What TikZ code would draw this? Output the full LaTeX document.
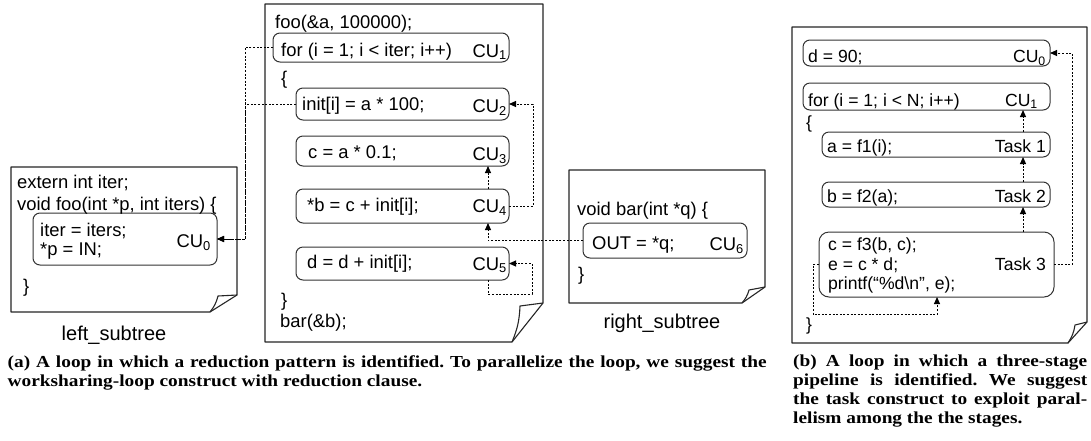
\documentclass[tikz,border=0pt]{standalone}
\usepackage{fontspec}
\newfontfamily\codefont{Liberation Sans}
\newfontfamily\capfont{Liberation Serif}[FakeStretch=1.15]
\usetikzlibrary{arrows.meta,calc}
\begin{document}
\begin{tikzpicture}[x=1pt,y=-1pt,
  doc/.style={draw=black!85, line width=1.1pt, line join=round},
  cubox/.style={draw=black!80, line width=1pt, rounded corners=7pt, inner sep=0pt, outer sep=0pt},
  code/.style={inner sep=0pt, anchor=base west, font=\codefont\fontsize{18.4}{22}\selectfont},
  codeR/.style={code, anchor=base east},
  pcode/.style={inner sep=0pt, anchor=base west, font=\codefont\fontsize{17.6}{21}\selectfont},
  pcodeR/.style={pcode, anchor=base east},
  lbl/.style={inner sep=0pt, anchor=base, font=\codefont\fontsize{20}{24}\selectfont},
  captext/.style={inner sep=0pt, anchor=base west, font=\capfont\bfseries\frenchspacing\fontsize{16.8}{19.5}\selectfont},
  dep/.style={draw=black, line width=1pt, dash pattern=on 2pt off 1.6pt, -{Triangle[length=7pt,width=6pt]}}
]
\useasboundingbox (0,0) rectangle (1091,440);
\fill[white] (0,0) rectangle (1091,440);

% ---------- documents ----------
% left_subtree
\draw[doc] (11,167) -- (237,167) -- (237,295) -- (210,312) -- (11,312) -- cycle;
\draw[doc] (237,295) -- (218,296) to[bend left=12] (210,312);
% main
\draw[doc] (265,4) -- (543,4) -- (543,303) -- (512,342) -- (265,342) -- cycle;
\draw[doc] (543,303) -- (520,306) to[bend left=10] (512,342);
% right_subtree
\draw[doc] (569,170) -- (765,170) -- (765,287) -- (742,303) -- (569,303) -- cycle;
\draw[doc] (765,287) -- (749,290) to[bend left=12] (742,303);
% panel b
\draw[doc] (792,27) -- (1087,27) -- (1087,322) -- (1068,343) -- (792,343) -- cycle;
\draw[doc] (1087,322) -- (1075,325) to[bend left=12] (1068,343);

% ---------- CU boxes ----------
\node[cubox, minimum width=184pt, minimum height=52pt] (cu0) at (125,239) {};
\node[cubox, minimum width=236pt, minimum height=29pt] (cu1) at (391,47.5) {};
\node[cubox, minimum width=213pt, minimum height=32pt] (cu2) at (402.5,104) {};
\node[cubox, minimum width=213pt, minimum height=30pt] (cu3) at (402.5,151) {};
\node[cubox, minimum width=213pt, minimum height=34pt] (cu4) at (402.5,206) {};
\node[cubox, minimum width=213pt, minimum height=33pt] (cu5) at (402.5,263.5) {};
\node[cubox, minimum width=164pt, minimum height=35pt] (cu6) at (665,240.5) {};

\node[cubox, minimum width=247pt, minimum height=26pt] (rcu0) at (926.5,53) {};
\node[cubox, minimum width=247pt, minimum height=27pt] (rcu1) at (926.5,96.5) {};
\node[cubox, minimum width=228pt, minimum height=25pt] (t1) at (936,144.5) {};
\node[cubox, minimum width=228pt, minimum height=25pt] (t2) at (936,194.5) {};
\node[cubox, rounded corners=10pt, minimum width=235pt, minimum height=65pt] (t3) at (936.5,264.5) {};

% ---------- texts: left_subtree ----------
\node[code] (l1) at (17,188) {extern int iter;};
\node[code] (l2) at (17,210) {void foo(int *p, int iters) \{};
\node[code] (l3) at (40,236) {iter = iters;};
\node[code] (l4) at (40,255) {*p = IN;};
\node[codeR] (l5) at (211,247) {CU\textsubscript{0}};
\node[code] (l6) at (23,292.5) {\}};
\node[lbl] (llab) at (114,340) {left\_subtree};

% ---------- texts: main ----------
\node[code] (m1) at (275,28) {foo(\&a, 100000);};
\node[code] (m2) at (281,56.5) {for (i = 1; i < iter; i++)};
\node[codeR] (m2c) at (507,57) {CU\textsubscript{1}};
\node[code] (m3) at (281,84) {\{};
\node[code] (m4) at (302,110.5) {init[i] = a * 100;};
\node[codeR] (m4c) at (507,112) {CU\textsubscript{2}};
\node[code] (m5) at (308,158.5) {c = a * 0.1;};
\node[codeR] (m5c) at (507,160.5) {CU\textsubscript{3}};
\node[code] (m6) at (307,211) {*b = c + init[i];};
\node[codeR] (m6c) at (507,212.5) {CU\textsubscript{4}};
\node[code] (m7) at (307,268) {d = d + init[i];};
\node[codeR] (m7c) at (507,270) {CU\textsubscript{5}};
\node[code] (m8) at (281,306.5) {\}};
\node[code] (m9) at (280,327) {bar(\&b);};

% ---------- texts: right_subtree ----------
\node[code] (r1) at (577,215) {void bar(int *q) \{};
\node[code] (r2) at (592,249.5) {OUT = *q;};
\node[codeR] (r2c) at (744,250) {CU\textsubscript{6}};
\node[code] (r3) at (578,280) {\}};
\node[lbl] (rlab) at (662,328) {right\_subtree};

% ---------- texts: panel b ----------
\node[pcode] (p1) at (808,62.5) {d = 90;};
\node[pcodeR] (p1c) at (1046,62.5) {CU\textsubscript{0}};
\node[pcode] (p2) at (808,106) {for (i = 1; i < N; i++)};
\node[pcodeR] (p2c) at (1038,106) {CU\textsubscript{1}};
\node[pcode] (p3) at (806,128) {\{};
\node[pcode] (p4) at (827,152.5) {a = f1(i);};
\node[pcodeR] (p4c) at (1046,152.5) {Task 1};
\node[pcode] (p5) at (827,202.5) {b = f2(a);};
\node[pcodeR] (p5c) at (1046,202.5) {Task 2};
\node[pcode] (p6) at (828,250) {c = f3(b, c);};
\node[pcode] (p7) at (828,270) {e = c * d;};
\node[pcode] (p8) at (828,289.5) {printf(“\%d\textbackslash n”, e);};
\node[pcodeR] (p7c) at (1046,270) {Task 3};
\node[pcode] (p9) at (806,330) {\}};

% ---------- connectors ----------
\coordinate (colA) at (488,0);
\coordinate (colB) at (1023,0);
\coordinate (colC) at (937,0);
\draw[dep] (cu1.west) -- ++(-28,0) |- (cu0.east);
\draw[dep] (cu2.west) -- ++(-51,0) |- (cu0.east);
\draw[dep] (cu4.east) -- ++(24,0) |- (cu2.east);
\draw[dep] (cu4.north -| colA) -- (cu3.south -| colA);
\draw[dep] (cu6.west) -| (cu4.south -| colA);
\draw[dep] (cu5.south -| colA) -- ++(0,14) -| ($(cu5.east)+(23,0)$) -- (cu5.east);

\draw[dep] (t1.north -| colB) -- (rcu1.south -| colB);
\draw[dep] (t2.north -| colB) -- (t1.south -| colB);
\draw[dep] (t3.north -| colB) -- (t2.south -| colB);
\draw[dep] (t3.east) -- ++(18,0) |- (rcu0.east);
\draw[dep] (t3.west) -- ++(-6,0) -- ++(0,50) -| (t3.south -| colC);

% ---------- captions ----------
\node[captext] (ca1) at (7.5,367) {\makebox[759pt][s]{(a) A loop in which a reduction pattern is identified. To parallelize the loop, we suggest the}};
\node[captext] (ca2) at (7.5,386.5) {worksharing-loop construct with reduction clause.};
\node[captext] (cb1) at (793,366.5) {\makebox[294pt][s]{(b) A loop in which a three-stage}};
\node[captext] (cb2) at (793,385.5) {\makebox[294pt][s]{pipeline is identified. We suggest}};
\node[captext] (cb3) at (793,404.5) {\makebox[294pt][s]{the task construct to exploit paral-}};
\node[captext] (cb4) at (793,423.5) {lelism among the the stages.};
\end{tikzpicture}
\end{document}
